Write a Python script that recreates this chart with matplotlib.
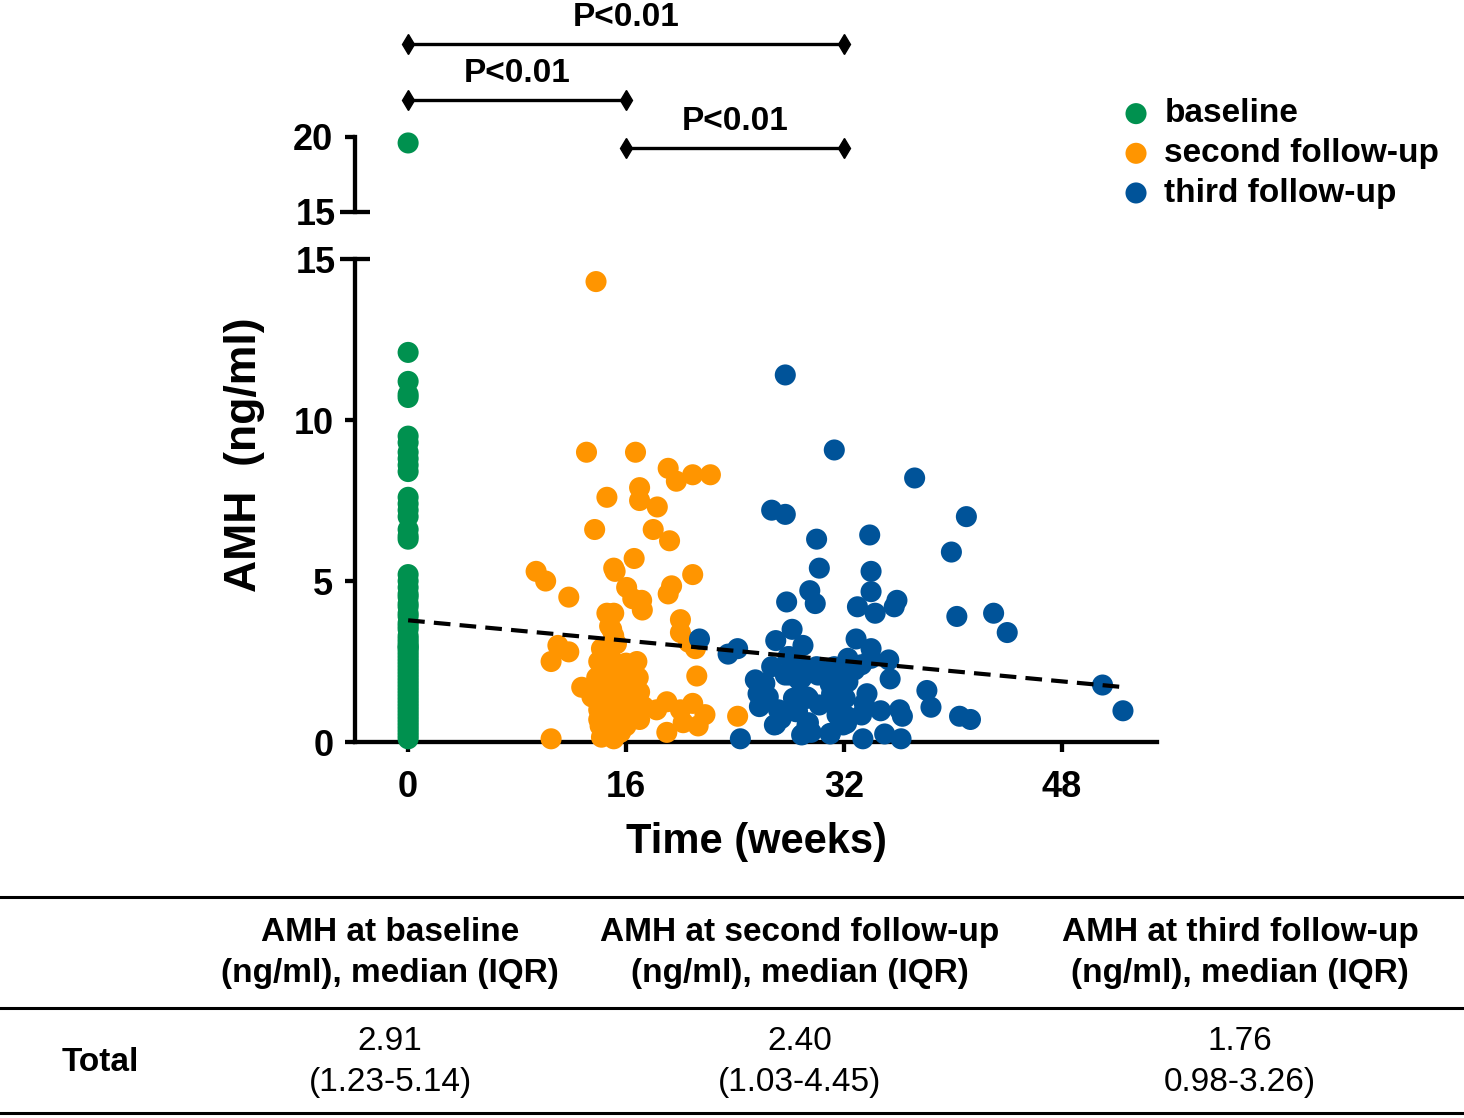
import numpy as np
import matplotlib
matplotlib.use("Agg")
import matplotlib.pyplot as plt
from matplotlib.lines import Line2D
import matplotlib.transforms as mtransforms

plt.rcParams['font.family'] = ['Liberation Sans', 'DejaVu Sans']

# ---- data ----
baseline_amh = [19.6, 12.1, 11.2, 10.8, 10.7, 9.5, 9.3, 9.0, 8.8, 8.6, 8.4,
                7.6, 7.4, 7.2, 7.0, 6.6, 6.4, 6.3,
                5.2, 5.0, 4.8, 4.6, 4.5, 4.3, 4.2, 4.0, 3.9, 3.7, 3.6, 3.5,
                3.3, 3.2, 3.1, 3.0, 2.95, 2.9, 2.8, 2.7, 2.6, 2.5, 2.4, 2.3,
                2.2, 2.1, 2.0, 1.9, 1.8, 1.7, 1.6, 1.5, 1.4, 1.3, 1.2, 1.1,
                1.0, 0.9, 0.8, 0.7, 0.6, 0.5, 0.4, 0.3, 0.2, 0.1]
baseline_week = [0] * len(baseline_amh)

second_week = [13.8, 13.1, 16.7, 19.1, 19.7, 20.9, 22.2, 14.6, 17.0, 17.0, 18.3,
               13.7, 18.0, 19.2, 16.6, 15.1, 15.2, 20.9, 9.4, 10.1, 11.8,
               16.05, 19.35, 19.1, 16.5, 17.15, 17.2, 14.6, 15.1, 14.8, 14.95,
               20.0, 20.0, 20.6, 21.1, 11.0, 11.8, 10.5, 15.1, 15.3, 14.2, 14.35,
               14.8, 14.0, 14.3, 15.2, 16.0, 16.8, 13.85, 14.8, 15.9, 16.9, 21.2,
               12.75, 13.5, 14.8, 15.6, 16.3, 17.0, 14.0, 14.7, 15.4, 16.2, 17.3,
               18.25, 19.0, 14.0, 14.8, 15.8, 17.0, 14.1, 15.1, 16.0, 14.2, 15.1,
               20.0, 20.9, 21.8, 20.2, 21.3, 19.0, 24.2, 10.5,
               13.9, 14.5, 15.5, 16.5, 15.0, 14.4, 15.6, 16.5]
second_amh = [14.3, 9.0, 9.0, 8.5, 8.1, 8.3, 8.3, 7.6, 7.9, 7.5, 7.3,
              6.6, 6.6, 6.25, 5.7, 5.4, 5.3, 5.2, 5.3, 5.0, 4.5,
              4.8, 4.85, 4.6, 4.45, 4.4, 4.1, 4.0, 4.0, 3.6, 3.5,
              3.8, 3.4, 3.1, 2.9, 3.0, 2.8, 2.5, 3.3, 3.05, 2.9, 2.75,
              2.75, 2.5, 2.45, 2.45, 2.45, 2.5, 2.0, 2.0, 2.1, 2.0, 2.05,
              1.7, 1.4, 1.45, 1.5, 1.4, 1.55, 1.0, 1.0, 1.1, 1.1, 1.1,
              1.0, 1.25, 0.7, 0.75, 0.7, 0.7, 0.5, 0.5, 0.5, 0.15, 0.1,
              1.0, 1.2, 0.85, 0.6, 0.5, 0.3, 0.8, 0.1,
              1.8, 1.2, 1.8, 0.9, 2.2, 0.3, 0.3, 1.7]

third_week = [27.7, 31.3, 37.2, 26.7, 27.7, 41.0, 30.0, 33.9, 39.9, 30.2, 34.0,
              29.5, 29.9, 27.8, 34.0, 33.0, 34.3, 35.9, 35.7, 40.3, 43.0, 44.0,
              51.0, 52.5, 21.4, 23.5, 24.2, 27.0, 28.2, 29.0, 32.9, 34.0, 35.3,
              35.4, 38.1, 38.4, 40.5, 41.3, 24.4, 33.4, 35.0, 36.2, 31.0, 29.0,
              29.6, 29.4, 27.0, 27.4, 34.7, 36.1, 36.3, 33.3, 33.5, 33.7,
              31.95, 32.2, 31.5, 31.2, 31.1, 31.0, 32.1, 30.2, 28.5, 28.3, 29.4,
              28.9, 28.9, 27.7, 27.2, 25.5, 26.2, 25.7, 26.45, 25.8, 26.7, 28.0,
              28.8, 30.0, 30.1, 31.3, 32.3, 32.8, 32.3, 33.3, 34.0, 31.8, 32.4,
              32.2, 31.7, 32.2, 31.0, 29.3, 28.6, 29.3, 28.9, 26.9, 27.9, 28.0,
              28.7, 25.8]
third_amh = [11.4, 9.07, 8.2, 7.2, 7.07, 7.0, 6.3, 6.43, 5.9, 5.4, 5.3,
             4.7, 4.3, 4.35, 4.67, 4.2, 4.0, 4.4, 4.2, 3.9, 4.0, 3.4,
             1.77, 0.97, 3.2, 2.73, 2.9, 3.15, 3.5, 3.0, 3.2, 2.9, 2.55,
             1.96, 1.6, 1.08, 0.8, 0.7, 0.1, 0.1, 0.25, 0.1, 0.25, 0.25,
             0.3, 0.6, 0.55, 0.73, 0.97, 1.0, 0.8, 0.84, 1.2, 1.5,
             0.53, 0.8, 0.84, 1.2, 1.5, 1.8, 1.36, 1.15, 0.94, 1.36, 1.36,
             1.3, 1.98, 2.08, 1.0, 1.93, 1.82, 1.5, 1.4, 1.1, 2.34, 2.65,
             2.4, 2.34, 2.08, 2.34, 2.6, 2.24, 1.87, 2.4, 2.6, 2.24, 2.45,
             1.93, 0.8, 0.58, 0.27, 1.4, 0.95, 0.53, 0.22, 0.53, 2.65, 2.08,
             1.93, 1.56]

# fitted trend
trend_intercept = 3.78
trend_slope = -0.0395
trend_range = [0, 52.3]

x_ticks = [0, 16, 32, 48]

# brackets: (start week, end week, label)
brackets = [(0, 32, "P<0.01"), (0, 16, "P<0.01"), (16, 32, "P<0.01")]

table_headers = ["AMH at baseline\n(ng/ml), median (IQR)",
                 "AMH at second follow-up\n(ng/ml), median (IQR)",
                 "AMH at third follow-up\n(ng/ml), median (IQR)"]
table_row_name = "Total"
table_values = ["2.91\n(1.23-5.14)", "2.40\n(1.03-4.45)", "1.76\n0.98-3.26)"]

green = "#00914F"
orange = "#FF9500"
blue = "#005399"

# ---- figure ----
fig = plt.figure(figsize=(14.64, 11.18), dpi=100)
ax = fig.add_axes([0.2425, 0.3363, 0.5478, 0.4320])
ax_top = fig.add_axes([0.2425, 0.8104, 0.5478, 0.0671], sharex=ax)

lw = 3.1
msize = 230
series = [(baseline_week, baseline_amh, green, "baseline"),
          (second_week, second_amh, orange, "second follow-up"),
          (third_week, third_amh, blue, "third follow-up")]
for wk, amh, col, lab in series:
    wk = np.array(wk)
    amh = np.array(amh)
    low = amh < 15
    ax.scatter(wk[low], amh[low], s=msize, color=col, edgecolors='none',
               zorder=3, clip_on=False, label=lab)
    if (~low).any():
        ax_top.scatter(wk[~low], amh[~low], s=msize, color=col,
                       edgecolors='none', zorder=3, clip_on=False)

xs = np.array(trend_range)
ax.plot(xs, trend_intercept + trend_slope * xs, color='black', lw=3.0,
        ls=(0, (4, 2.2)), zorder=4)

# main axis
ax.set_xlim(-3.9, 55)
ax.set_ylim(0, 15)
ax.set_xticks(x_ticks)
ax.set_yticks([0, 5, 10])
ax.set_yticks([15], minor=True)
ax.set_yticklabels(["15"], minor=True)
for side in ['top', 'right']:
    ax.spines[side].set_visible(False)
for side in ['left', 'bottom']:
    ax.spines[side].set_linewidth(lw)
ax.tick_params(axis='both', which='major', direction='out', length=7.5,
               width=lw, labelsize=26, pad=8)
ax.tick_params(axis='y', which='minor', direction='inout', length=22,
               width=lw, labelsize=26, pad=3)
ax.tick_params(axis='x', pad=13)
for t in ax.get_xticklabels() + ax.get_yticklabels() + ax.get_yticklabels(minor=True):
    t.set_fontweight('bold')
ax.set_xlabel("Time (weeks)", fontsize=30, fontweight='bold', labelpad=12)
ax.set_ylabel("AMH  (ng/ml)", fontsize=32, fontweight='bold')
ax.yaxis.set_label_coords(-0.112, 0.594)

# top (broken) axis
ax_top.set_ylim(15, 20)
ax_top.set_yticks([20])
ax_top.set_yticks([15], minor=True)
ax_top.set_yticklabels(["15"], minor=True)
for side in ['top', 'right', 'bottom']:
    ax_top.spines[side].set_visible(False)
ax_top.spines['left'].set_linewidth(lw)
ax_top.tick_params(axis='x', which='both', bottom=False, labelbottom=False)
ax_top.tick_params(axis='y', which='major', direction='out', length=7.5,
                   width=lw, labelsize=26, pad=8)
ax_top.tick_params(axis='y', which='minor', direction='inout', length=22,
                   width=lw, labelsize=26, pad=3)
for t in ax_top.get_yticklabels() + ax_top.get_yticklabels(minor=True):
    t.set_fontweight('bold')
ax_top.patch.set_visible(False)

# significance brackets (x in data, y in figure fraction)
trans = mtransforms.blended_transform_factory(ax.transData, fig.transFigure)
bracket_y = [0.9606, 0.9106, 0.8676]
for (x0, x1, txt), yb in zip(brackets, bracket_y):
    fig.add_artist(Line2D([x0, x1], [yb, yb], transform=trans, color='black',
                          lw=2.4, marker='d', markersize=10, clip_on=False))
    fig.text((x0 + x1) / 2, yb + 0.016, txt, transform=trans, ha='center',
             va='baseline', fontsize=24, fontweight='bold')

# legend
leg = fig.legend(loc='upper left', bbox_to_anchor=(0.768, 0.912), frameon=False,
                 fontsize=24, handlelength=0.7, handletextpad=0.5,
                 labelspacing=0.26, borderaxespad=0, borderpad=0)
for t in leg.get_texts():
    t.set_fontweight('bold')

# table
for yl in [0.1977, 0.0984, 0.0045]:
    fig.add_artist(Line2D([0, 1], [yl, yl], transform=fig.transFigure,
                          color='black', lw=2.2))
col_x = [0.2664, 0.5464, 0.847]
for cx, head, val in zip(col_x, table_headers, table_values):
    fig.text(cx, 0.1476, head, ha='center', va='center', fontsize=24,
             fontweight='bold', linespacing=1.4)
    fig.text(cx, 0.050, val, ha='center', va='center', fontsize=24,
             linespacing=1.4)
fig.text(0.0683, 0.050, table_row_name, ha='center', va='center',
         fontsize=24, fontweight='bold')

fig.savefig("out.png", dpi=100)
